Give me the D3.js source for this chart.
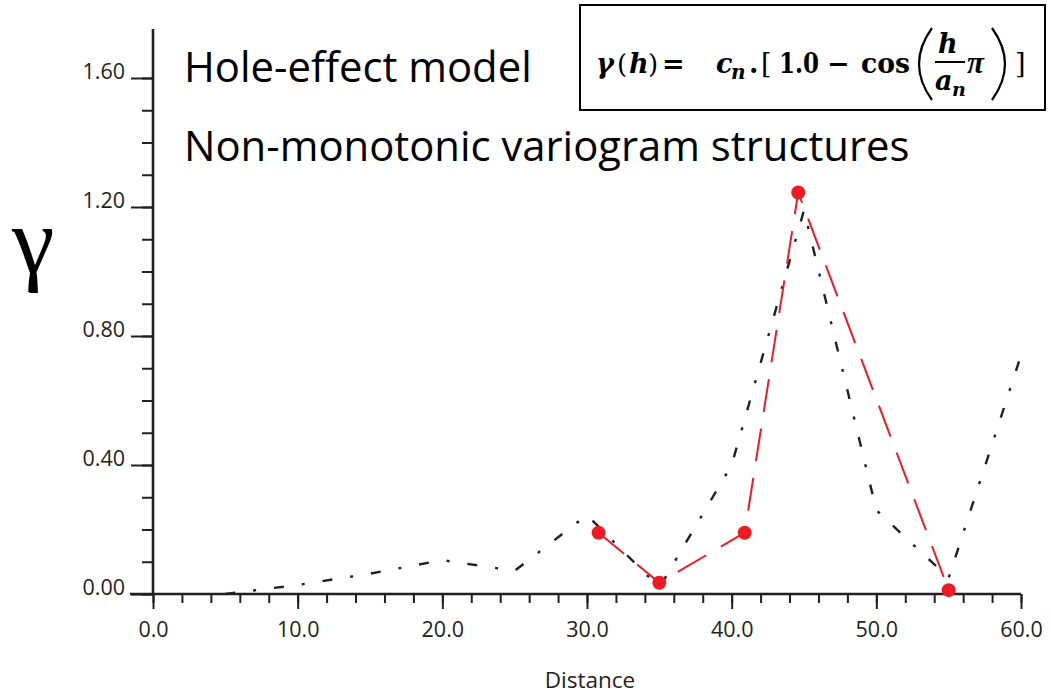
<!DOCTYPE html>
<html>
<head>
<meta charset="utf-8">
<script src="https://cdn.jsdelivr.net/npm/d3@7"></script>
<style>
  html, body { margin: 0; padding: 0; background: #ffffff; }
  svg { display: block; }
</style>
</head>
<body>
<svg id="chart" width="1051" height="695"></svg>
<script>
// ---- data ----
const modelDistance = [5, 10, 15, 20, 25, 30, 35, 40, 45, 50, 55, 60];
const modelGamma    = [0.0, 0.028, 0.063, 0.105, 0.072, 0.245, 0.02, 0.40, 1.19, 0.26, 0.05, 0.74];
const expDistance   = [30.8, 35.0, 40.9, 44.6, 55.0];
const expGamma      = [0.19, 0.035, 0.19, 1.245, 0.012];
const xMajorTicks   = [0, 10, 20, 30, 40, 50, 60];
const xMinorTicks   = d3.range(0, 60.001, 2);
const yMajorTicks   = [0, 0.4, 0.8, 1.2, 1.6];
const yMinorTicks   = d3.range(0, 1.6001, 0.1);
const titleLines    = ["Hole-effect model", "Non-monotonic variogram structures"];
const xTitle = "Distance";
const yTitle = "γ";

const INK = "#231f20", RED = "#ed1c24";
const svg = d3.select("#chart");

const x = d3.scaleLinear().domain([0, 60]).range([153, 1021]);
const y = d3.scaleLinear().domain([0, 1.6]).range([594, 78]);

// ---- axes ----
const yMinor = svg.append("g").attr("transform", `translate(${x(0)},0)`)
  .call(d3.axisLeft(y).tickValues(yMinorTicks).tickSize(11).tickFormat(""));
const yMajor = svg.append("g").attr("transform", `translate(${x(0)},0)`)
  .call(d3.axisLeft(y).tickValues(yMajorTicks).tickSize(22).tickPadding(6).tickFormat(d3.format(".2f")));
const xMinor = svg.append("g").attr("transform", `translate(0,${y(0)})`)
  .call(d3.axisBottom(x).tickValues(xMinorTicks).tickSize(9).tickFormat(""));
const xMajor = svg.append("g").attr("transform", `translate(0,${y(0)})`)
  .call(d3.axisBottom(x).tickValues(xMajorTicks).tickSize(15).tickFormat(d3.format(".1f")));

[yMinor, yMajor, xMinor, xMajor].forEach(g => {
  g.select(".domain").remove();
  g.selectAll(".tick line").attr("stroke", INK).attr("stroke-width", 2);
  g.selectAll(".tick text").attr("fill", INK)
    .style("font-family", "'Open Sans', sans-serif").style("font-size", "21.5px");
});
yMajor.selectAll(".tick text").attr("dy", "0");
xMajor.selectAll(".tick text").attr("y", 43).attr("dy", "0");

// axis lines
svg.append("line").attr("x1", x(0)).attr("x2", x(0)).attr("y1", y(1.752)).attr("y2", y(0))
  .attr("stroke", INK).attr("stroke-width", 2.6);
svg.append("line").attr("x1", x(0) - 23).attr("x2", x(60)).attr("y1", y(0)).attr("y2", y(0))
  .attr("stroke", INK).attr("stroke-width", 2.6);

// axis titles
svg.append("text").attr("x", 590).attr("y", 688).attr("text-anchor", "middle")
  .attr("fill", INK).style("font-family", "'Open Sans', sans-serif").style("font-size", "22.5px")
  .text(xTitle);
svg.append("text").attr("x", 12).attr("y", 273)
  .attr("fill", "#000").style("font-family", "'Liberation Serif', serif").style("font-size", "96px")
  .text(yTitle);

// ---- lines ----
const line = d3.line().x(d => x(d[0])).y(d => y(d[1]));
const model = modelDistance.map((d, i) => [d, modelGamma[i]]);
const exp = expDistance.map((d, i) => [d, expGamma[i]]);

svg.append("path").datum(model).attr("d", line).attr("fill", "none")
  .attr("stroke", INK).attr("stroke-width", 2.4).attr("stroke-dasharray", "10,18,3,18");
svg.append("path").datum(exp).attr("d", line).attr("fill", "none")
  .attr("stroke", RED).attr("stroke-width", 2).attr("stroke-dasharray", "33,17");
svg.selectAll("circle.pt").data(exp).enter().append("circle").attr("class", "pt")
  .attr("cx", d => x(d[0])).attr("cy", d => y(d[1])).attr("r", 7).attr("fill", RED);

// ---- titles ----
svg.append("text").attr("x", 184).attr("y", 82).attr("fill", "#000")
  .style("font-family", "'Open Sans', sans-serif").style("font-size", "41.8px").text(titleLines[0]);
svg.append("text").attr("x", 184).attr("y", 161).attr("fill", "#000")
  .style("font-family", "'Open Sans', sans-serif").style("font-size", "41.8px").text(titleLines[1]);

// ---- formula box ----
svg.append("rect").attr("x", 580).attr("y", 5).attr("width", 465).attr("height", 105)
  .attr("fill", "#fff").attr("stroke", "#000").attr("stroke-width", 2);
const f = svg.append("g").style("font-family", "'DejaVu Serif', serif")
  .style("font-weight", "bold").attr("fill", "#000");
function t(xp, yp, s, size, italic, weight, len, fam) {
  const e = f.append("text").attr("x", xp).attr("y", yp).style("font-size", size + "px")
    .style("font-style", italic ? "italic" : "normal")
    .style("font-weight", weight || "bold").text(s);
  if (len) e.attr("textLength", len).attr("lengthAdjust", "spacingAndGlyphs");
  if (fam) e.style("font-family", fam);
}
const base = 73;
t(596, base, "γ", 27, true);
t(617, base, "(", 26, false, "normal");
t(629, base, "h", 27, true);
t(648, base, ")", 26, false, "normal");
t(662, base, "=", 27, false);
t(716, base, "c", 27, true);
t(731, base + 6, "n", 20, true);
t(749, base, ".", 27, false);
t(761, base, "[", 27, false, "normal");
t(779, base, "1.0", 27, false, "bold", 40);
t(827, base, "−", 27, false);
t(861, base, "cos", 27, false, "bold", 49);
// large thin parentheses
f.append("path").attr("d", "M932,28 Q906,64 932,100").attr("fill", "none")
  .attr("stroke", "#000").attr("stroke-width", 2.2);
f.append("path").attr("d", "M992,28 Q1018,64 992,100").attr("fill", "none")
  .attr("stroke", "#000").attr("stroke-width", 2.2);
t(938, 53, "h", 27, true);
f.append("line").attr("x1", 935).attr("x2", 965).attr("y1", 62).attr("y2", 62)
  .attr("stroke", "#000").attr("stroke-width", 2);
t(935, 90, "a", 27, true);
t(952, 96, "n", 19, true);
t(967, base, "π", 31, true, "bold", null, "'Liberation Serif', serif");
t(1015, base, "]", 27, false, "normal");
</script>
</body>
</html>
